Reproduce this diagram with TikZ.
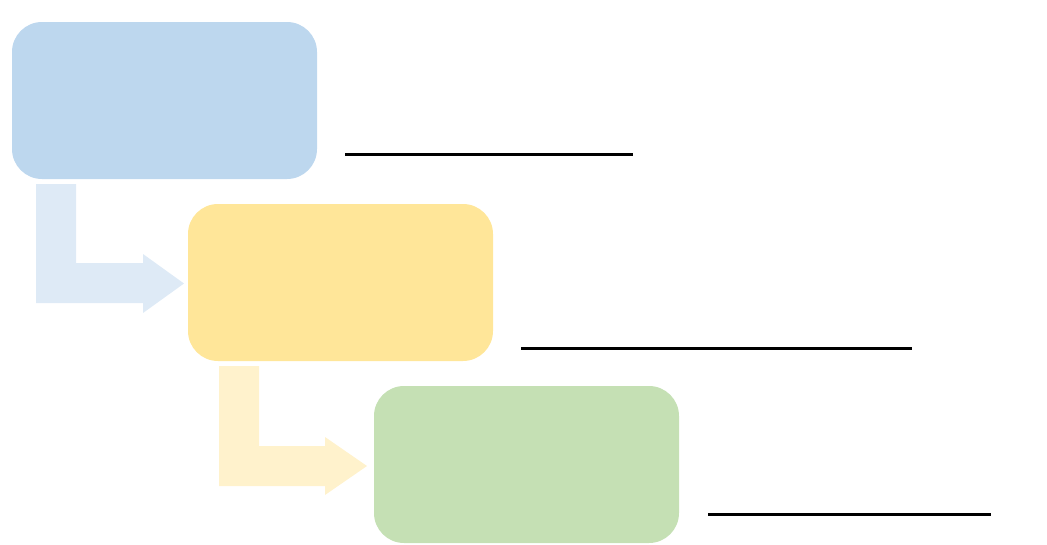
\documentclass[tikz,border=0pt]{standalone}
\begin{document}
\begin{tikzpicture}[x=1pt,y=-1pt,
  box/.style={rounded corners=30pt,inner sep=0pt,outer sep=0pt},
  rule/.style={line width=3pt},
]
\useasboundingbox (0,0) rectangle (1047,544);
\definecolor{cblue}{HTML}{BDD7EE}
\definecolor{cyellow}{HTML}{FFE699}
\definecolor{cgreen}{HTML}{C5E0B4}
\definecolor{ablue}{HTML}{DEEAF6}
\definecolor{ayellow}{HTML}{FFF2CC}
% boxes
\fill[cblue,box] (12,22) rectangle (317,179);
\fill[cyellow,box] (188,204) rectangle (493,361);
\fill[cgreen,box] (374,386) rectangle (679,543);
\node[inner sep=0pt] (b1) at (164.5,100.5) {};
\node[inner sep=0pt] (b2) at (340.5,282.5) {};
\node[inner sep=0pt] (b3) at (526.5,464.5) {};
% bent arrows
\fill[ablue] (36,184) -- (76,184) -- (76,263) -- (143,263) -- (143,254) -- (184,283.5) -- (143,313) -- (143,303) -- (36,303) -- cycle;
\fill[ayellow] (219,366) -- (259,366) -- (259,446) -- (325,446) -- (325,437) -- (367,466) -- (325,495) -- (325,486) -- (219,486) -- cycle;
% lines
\coordinate (l1a) at (345,154); \coordinate (l1b) at (633,154);
\coordinate (l2a) at (521,348); \coordinate (l2b) at (912,348);
\coordinate (l3a) at (708,514); \coordinate (l3b) at (991,514);
\draw[rule] (l1a) -- (l1b);
\draw[rule] (l2a) -- (l2b);
\draw[rule] (l3a) -- (l3b);
\end{tikzpicture}
\end{document}
